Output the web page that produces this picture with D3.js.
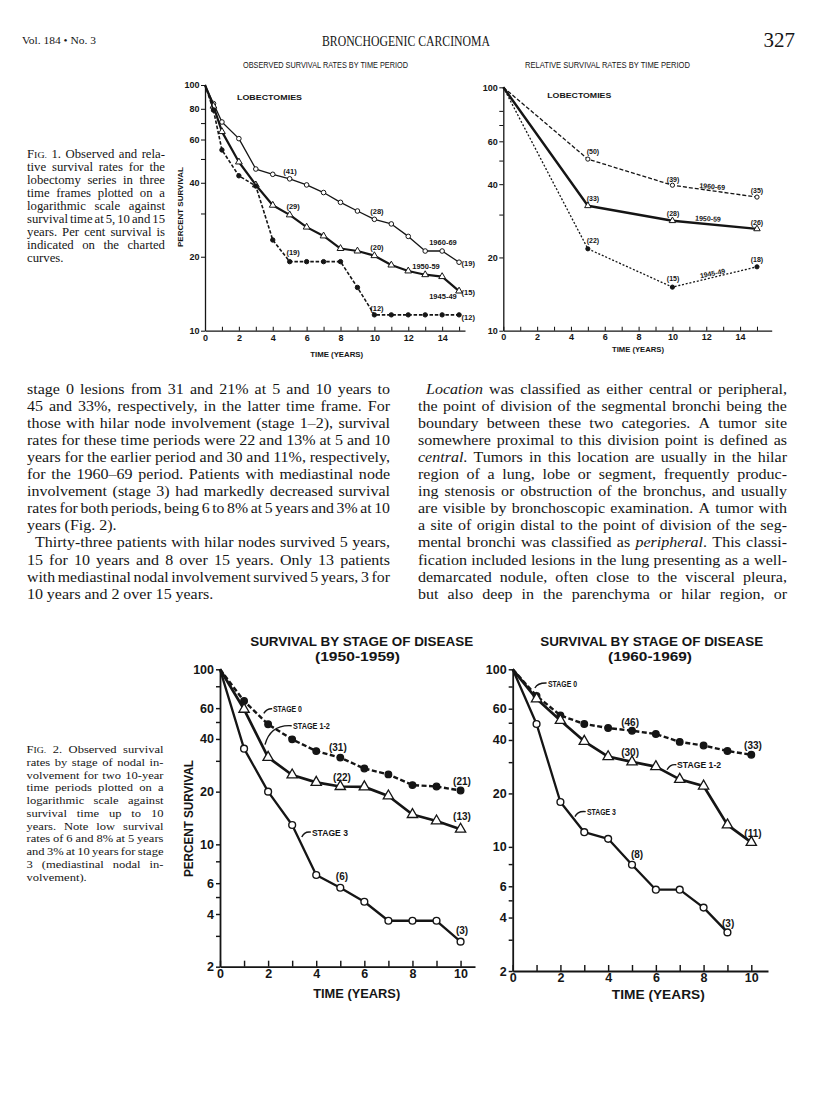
<!DOCTYPE html>
<html><head><meta charset="utf-8">
<script src="https://cdn.jsdelivr.net/npm/d3@7"></script>
<style>
html,body{margin:0;padding:0;background:#fff;}
svg{display:block;}
</style></head><body>
<svg id="page" width="816" height="1109"></svg>
<script>
// ---------------- DATA ----------------
// Fig. 1 left: observed survival (%) by time period, lobectomies
const obsYears = [0, 0.5, 1, 2, 3, 4, 5, 6, 7, 8, 9, 10, 11, 12, 13, 14, 15];
const obs1960 = [100, 84, 70.7, 60.5, 45.5, 43.3, 41.5, 39.2, 36.5, 33.3, 30.7, 28.4, 27.2, 24.2, 21.1, 21.1, 19.0];
const obs1950 = [100, 82, 64.6, 48.6, 39.2, 32.4, 29.6, 26.4, 24.3, 21.6, 21.1, 20.2, 18.5, 17.5, 16.9, 16.6, 14.5];
const obs1945 = [100, 79, 54.4, 42.7, 38.8, 23.4, 19.1, 19.1, 19.1, 19.1, 15.0, 11.6, 11.6, 11.6, 11.6, 11.6, 11.6];
// Fig. 1 right: relative survival (%)
const relYears = [0, 5, 10, 15];
const rel1960 = [100, 50.7, 39.6, 35.4];
const rel1950 = [100, 32.6, 28.3, 26.2];
const rel1945 = [100, 21.7, 15.1, 18.3];
// Fig. 2: survival by stage
const stageYears = [0, 1, 2, 3, 4, 5, 6, 7, 8, 9, 10];
const s50stage0 = [100, 65.9, 48.5, 39.8, 34.1, 31.3, 27.1, 25.1, 21.8, 21.4, 20.3];
const s50stage12 = [100, 59.1, 31.4, 24.9, 22.6, 21.4, 21.3, 18.9, 14.8, 13.6, 12.2];
const s50stage3 = [100, 35.2, 20.0, 12.9, 6.68, 5.65, 4.70, 3.66, 3.66, 3.66, 2.78];
const s60stage0 = [100, 70.8, 55.0, 49.2, 46.7, 45.1, 43.2, 39.0, 37.2, 34.7, 33.0];
const s60stage12 = [100, 68.2, 51.5, 39.3, 32.2, 30.1, 28.3, 24.0, 22.0, 13.3, 10.6];
const s60stage3 = [100, 49.2, 17.9, 12.1, 11.1, 7.93, 5.74, 5.74, 4.55, 3.30];
// tick labels
const lobXLabels = [0, 2, 4, 6, 8, 10, 12, 14];
const obsYLabels = [10, 20, 40, 60, 80, 100];
const relYLabels = [10, 20, 40, 60, 100];
const lobYTicks = [10, 20, 30, 40, 50, 60, 70, 80, 100];
const stageXLabels = [0, 2, 4, 6, 8, 10];
const stageYLabels = [2, 4, 6, 10, 20, 40, 60, 100];
const stageYTicks = [2, 3, 4, 5, 6, 8, 10, 20, 30, 40, 50, 60, 80, 100];
// names
const periods = ["1960-69", "1950-59", "1945-49"];
const stageNames = ["STAGE 0", "STAGE 1-2", "STAGE 3"];

// ---------------- SETUP ----------------
const INK = "#151515";
const SANS = "'Liberation Sans', Arial, Helvetica, sans-serif";
const SERIF = "'Liberation Serif', 'Times New Roman', serif";
const svg = d3.select("#page");
svg.append("rect").attr("width", 816).attr("height", 1109).attr("fill", "#fff");

function txt(g, x, y, s, o = {}) {
  const t = g.append("text").attr("x", x).attr("y", y).text(s)
    .attr("fill", INK).attr("font-family", o.family || SANS)
    .attr("font-size", o.fs || 9).attr("font-weight", o.bold === false ? "normal" : "bold")
    .attr("text-anchor", o.anchor || "start");
  if (o.len) t.attr("textLength", o.len).attr("lengthAdjust", "spacingAndGlyphs");
  if (o.rot) t.attr("transform", `rotate(${o.rot},${x},${y})`);
  return t;
}

// ---------------- JUSTIFIED SERIF TEXT ----------------
function renderWord(t, w, fs) {
  if (w.startsWith("~")) { // small caps style "FIG."
    const s = w.slice(1);
    t.append("tspan").text(s[0]);
    t.append("tspan").attr("font-size", fs * 0.78).text(s.slice(1));
    return;
  }
  const parts = w.split("*");
  parts.forEach((p, i) => {
    if (!p) return;
    const ts = t.append("tspan").text(p);
    if (i % 2 === 1) ts.attr("font-style", "italic");
  });
}
function justify(g, lines, opt) {
  const hs = opt.hs || 1;
  lines.forEach((ln, i) => {
    const y = opt.y + i * opt.lh;
    const ind = ln.indent || 0;
    const x0 = opt.x + ind, W = opt.width - ind;
    const words = ln.text.split(" ");
    const els = words.map(w => {
      const t = g.append("text").attr("y", y).attr("font-family", opt.family)
        .attr("font-size", opt.fs).attr("fill", INK);
      renderWord(t, w, opt.fs);
      return t;
    });
    const nat = els.map(t => t.node().getComputedTextLength());
    let f = hs;
    const sum = d3.sum(nat);
    let gap = opt.fs * 0.25;
    const minGap = opt.fs * 0.17;
    if (!ln.last && words.length > 1) {
      gap = (W - sum * f) / (words.length - 1);
      if (gap < minGap) {
        gap = minGap;
        f = (W - gap * (words.length - 1)) / sum;
      }
    }
    const widths = nat.map((w0, j) => {
      if (Math.abs(f - 1) > 0.001) els[j].attr("textLength", w0 * f).attr("lengthAdjust", "spacingAndGlyphs");
      return w0 * f;
    });
    let x = x0;
    els.forEach((t, j) => { t.attr("x", x); x += widths[j] + gap; });
  });
}

// ---------------- HEADER ----------------
const head = svg.append("g");
txt(head, 22, 44, "Vol. 184 \u2022 No. 3", { family: SERIF, fs: 10, bold: false, len: 74 });
txt(head, 406, 45.5, "BRONCHOGENIC CARCINOMA", { family: SERIF, fs: 15, bold: false, anchor: "middle", len: 168 });
txt(head, 795, 47, "327", { family: SERIF, fs: 21, bold: false, anchor: "end" });
txt(head, 243, 68, "OBSERVED SURVIVAL RATES BY TIME PERIOD", { fs: 8.5, bold: false, len: 165 });
txt(head, 525, 68, "RELATIVE SURVIVAL RATES BY TIME PERIOD", { fs: 8.5, bold: false, len: 165 });

// ---------------- CHART HELPER ----------------
function chart(cfg) {
  const g = svg.append("g");
  const x = d3.scaleLinear().domain(cfg.xDomain).range(cfg.xRange);
  const y = d3.scaleLog().domain(cfg.yDomain).range(cfg.yRange);
  const xa = d3.axisBottom(x).tickValues(d3.range(0, Math.floor(cfg.xDomain[1]) + 1))
    .tickFormat(d => cfg.xLabels.includes(d) ? d : "")
    .tickSize(-cfg.xTick).tickSizeOuter(0).tickPadding(cfg.xPad);
  const ya = d3.axisLeft(y).tickValues(cfg.yTicks)
    .tickFormat(d => cfg.yLabels.includes(d) ? d : "")
    .tickSize(cfg.yTick).tickSizeOuter(0).tickPadding(cfg.yPad);
  const gx = g.append("g").attr("transform", `translate(0,${cfg.yRange[0]})`).call(xa);
  const gy = g.append("g").attr("transform", `translate(${cfg.xRange[0]},0)`).call(ya);
  [gx, gy].forEach(a => {
    a.select(".domain").attr("stroke", INK).attr("stroke-width", cfg.axisW);
    a.selectAll(".tick line").attr("stroke", INK).attr("stroke-width", cfg.axisW * 0.8);
    a.selectAll("text").attr("fill", INK).attr("font-family", SANS)
      .attr("font-weight", "bold").attr("font-size", cfg.tickFs);
  });
  const line = d3.line().x(d => x(d[0])).y(d => y(d[1]));
  cfg.series.forEach(s => {
    const pts = s.years.map((yr, i) => [yr, s.values[i]]);
    g.append("path").datum(pts).attr("d", line).attr("fill", "none")
      .attr("stroke", INK).attr("stroke-width", s.w)
      .attr("stroke-dasharray", s.dash || null).attr("stroke-linejoin", "round");
    const mk = g.append("g");
    pts.filter(p => p[0] > 0).forEach(p => {
      if (s.marker === "tri") {
        mk.append("path").attr("d", d3.symbol().type(d3.symbolTriangle).size(s.size)())
          .attr("transform", `translate(${x(p[0])},${y(p[1])})`)
          .attr("fill", "#fff").attr("stroke", INK).attr("stroke-width", s.mw);
      } else {
        mk.append("circle").attr("cx", x(p[0])).attr("cy", y(p[1])).attr("r", s.r)
          .attr("fill", s.marker === "filled" ? INK : "#fff")
          .attr("stroke", INK).attr("stroke-width", s.mw);
      }
    });
  });
  return { g, x, y };
}

// ---------------- FIG 1 LEFT: OBSERVED ----------------
const c1 = chart({
  xDomain: [0, 15.35], xRange: [205, 465], yDomain: [10, 100], yRange: [330.7, 85],
  xLabels: lobXLabels, yLabels: obsYLabels, yTicks: lobYTicks,
  xTick: 4, xPad: 3.5, yTick: 4, yPad: 1.5, axisW: 1.3, tickFs: 9,
  series: [
    { years: obsYears, values: obs1960, w: 1.3, marker: "open", r: 2.3, mw: 1 },
    { years: obsYears, values: obs1950, w: 2.2, marker: "tri", size: 20, mw: 1 },
    { years: obsYears, values: obs1945, w: 1.6, dash: "3.5,1.8", marker: "filled", r: 2.2, mw: 1 }
  ]
});
{
  const { g, x, y } = c1;
  const f = 7.5;
  txt(g, x(1.89), y(89.3) + 3, "LOBECTOMIES", { fs: 8, len: 65 });
  txt(g, x(5.02), y(44.8) + 3, "(41)", { fs: f, anchor: "middle" });
  txt(g, x(5.2), y(32.2) + 3, "(29)", { fs: f, anchor: "middle" });
  txt(g, x(5.2), y(20.9) + 3, "(19)", { fs: f, anchor: "middle" });
  txt(g, x(10.15), y(30.7) + 3, "(28)", { fs: f, anchor: "middle" });
  txt(g, x(10.15), y(21.9) + 3, "(20)", { fs: f, anchor: "middle" });
  txt(g, x(10.15), y(12.4) + 3, "(12)", { fs: f, anchor: "middle" });
  txt(g, x(14.05), y(22.96) + 3, periods[0], { fs: f, anchor: "middle" });
  txt(g, x(13.05), y(18.3) + 3, periods[1], { fs: f, anchor: "middle" });
  txt(g, x(14.05), y(13.8) + 3, periods[2], { fs: f, anchor: "middle" });
  txt(g, x(15.15), y(18.9) + 3, "(19)", { fs: f });
  txt(g, x(15.15), y(14.4) + 3, "(15)", { fs: f });
  txt(g, x(15.15), y(11.4) + 3, "(12)", { fs: f });
  txt(g, 336.7, 356.5, "TIME (YEARS)", { fs: 8, anchor: "middle", len: 53 });
  txt(g, 183, 207, "PERCENT SURVIVAL", { fs: 8, anchor: "middle", rot: -90, len: 80 });
}

// ---------------- FIG 1 RIGHT: RELATIVE ----------------
const c2 = chart({
  xDomain: [0, 15.87], xRange: [503.3, 771.7], yDomain: [10, 100], yRange: [330.7, 87.3],
  xLabels: lobXLabels, yLabels: relYLabels, yTicks: lobYTicks,
  xTick: 4, xPad: 3, yTick: 4, yPad: 1.5, axisW: 1.3, tickFs: 9,
  series: [
    { years: relYears, values: rel1960, w: 1.3, dash: "4,2", marker: "open", r: 2.1, mw: 1 },
    { years: relYears, values: rel1950, w: 2.4, marker: "tri", size: 18, mw: 1 },
    { years: relYears, values: rel1945, w: 1.3, dash: "2,1.8", marker: "filled", r: 2.1, mw: 1 }
  ]
});
{
  const { g, x, y } = c2;
  const f = 7;
  txt(g, x(2.6), y(93.3) + 3, "LOBECTOMIES", { fs: 8, len: 64 });
  txt(g, x(5.3), y(54.8) + 3, "(50)", { fs: f, anchor: "middle" });
  txt(g, x(10.04), y(42.0) + 3, "(39)", { fs: f, anchor: "middle" });
  txt(g, x(12.34), y(39.3) + 3, periods[0], { fs: f, anchor: "middle", rot: 5 });
  txt(g, x(15.0), y(37.8) + 3, "(35)", { fs: f, anchor: "middle" });
  txt(g, x(5.3), y(35.1) + 3, "(33)", { fs: f, anchor: "middle" });
  txt(g, x(10.04), y(30.4) + 3, "(28)", { fs: f, anchor: "middle" });
  txt(g, x(12.1), y(29.0) + 3, periods[1], { fs: f, anchor: "middle", rot: 3 });
  txt(g, x(15.0), y(28.0) + 3, "(26)", { fs: f, anchor: "middle" });
  txt(g, x(5.3), y(23.6) + 3, "(22)", { fs: f, anchor: "middle" });
  txt(g, x(10.04), y(16.5) + 3, "(15)", { fs: f, anchor: "middle" });
  txt(g, x(12.4), y(17.3) + 3, periods[2], { fs: f, anchor: "middle", rot: -11 });
  txt(g, x(15.0), y(19.7) + 3, "(18)", { fs: f, anchor: "middle" });
  txt(g, 638, 351.5, "TIME (YEARS)", { fs: 8, anchor: "middle", len: 52 });
}

// ---------------- FIG 2 CHARTS ----------------
function stageChart(xRange, xDom, yRange, s0, s12, s3) {
  return chart({
    xDomain: xDom, xRange: xRange, yDomain: [2, 100], yRange: yRange,
    xLabels: stageXLabels, yLabels: stageYLabels, yTicks: stageYTicks,
    xTick: 6, xPad: 2.5, yTick: 4, yPad: 2, axisW: 1.8, tickFs: 12.5,
    series: [
      { years: stageYears.slice(0, s0.length), values: s0, w: 2.4, dash: "5,2.5", marker: "filled", r: 3.3, mw: 1.3 },
      { years: stageYears.slice(0, s12.length), values: s12, w: 2.7, marker: "tri", size: 46, mw: 1.3 },
      { years: stageYears.slice(0, s3.length), values: s3, w: 2.3, marker: "open", r: 3.4, mw: 1.4 }
    ]
  });
}
function leader(g, x, y, a, b, c) {
  const p = d3.path();
  p.moveTo(x(a[0]), y(a[1]));
  p.quadraticCurveTo(x(b[0]), y(b[1]), x(c[0]), y(c[1]));
  g.append("path").attr("d", p.toString()).attr("fill", "none")
    .attr("stroke", INK).attr("stroke-width", 1.4);
}

const c3 = stageChart([220, 475], [0, 10.6], [966.7, 669.3], s50stage0, s50stage12, s50stage3);
{
  const { g, x, y } = c3;
  txt(g, 361.7, 646, "SURVIVAL BY STAGE OF DISEASE", { fs: 13, anchor: "middle", len: 223 });
  txt(g, 357.5, 660.5, "(1950-1959)", { fs: 12.5, anchor: "middle", len: 85 });
  const f = 10;
  txt(g, x(4.9), y(36.2) + 4, "(31)", { fs: f, anchor: "middle" });
  txt(g, x(5.07), y(24.4) + 4, "(22)", { fs: f, anchor: "middle" });
  txt(g, x(5.07), y(6.6) + 4, "(6)", { fs: f, anchor: "middle" });
  txt(g, x(10.06), y(22.9) + 4, "(21)", { fs: f, anchor: "middle" });
  txt(g, x(10.06), y(14.5) + 4, "(13)", { fs: f, anchor: "middle" });
  txt(g, x(10.06), y(3.22) + 4, "(3)", { fs: f, anchor: "middle" });
  txt(g, x(2.2), y(59.5) + 3.5, stageNames[0], { fs: 9, len: 29 });
  txt(g, x(3.03), y(47.6) + 3.5, stageNames[1], { fs: 9, len: 37 });
  txt(g, x(3.82), y(11.75) + 3.5, stageNames[2], { fs: 9, len: 36 });
  leader(g, x, y, [1.82, 56], [1.95, 59.8], [2.17, 59.5]);
  leader(g, x, y, [1.87, 37.1], [2.1, 48.5], [2.98, 47.6]);
  leader(g, x, y, [3.4, 11.0], [3.5, 11.9], [3.78, 11.75]);
  txt(g, 356.7, 998, "TIME (YEARS)", { fs: 13, anchor: "middle", len: 87 });
  txt(g, 192.5, 818.5, "PERCENT SURVIVAL", { fs: 12.5, anchor: "middle", rot: -90, len: 117 });
}

const c4 = stageChart([512.7, 768], [0, 10.7], [971, 669.3], s60stage0, s60stage12, s60stage3);
{
  const { g, x, y } = c4;
  txt(g, 651.7, 646, "SURVIVAL BY STAGE OF DISEASE", { fs: 13, anchor: "middle", len: 223 });
  txt(g, 650, 660.5, "(1960-1969)", { fs: 12.5, anchor: "middle", len: 84 });
  const f = 10;
  txt(g, x(4.92), y(50.6) + 4, "(46)", { fs: f, anchor: "middle" });
  txt(g, x(10.07), y(37.5) + 4, "(33)", { fs: f, anchor: "middle" });
  txt(g, x(4.92), y(34.3) + 4, "(30)", { fs: f, anchor: "middle" });
  txt(g, x(10.07), y(12.0) + 4, "(11)", { fs: f, anchor: "middle" });
  txt(g, x(5.21), y(9.15) + 4, "(8)", { fs: f, anchor: "middle" });
  txt(g, x(9.03), y(3.75) + 4, "(3)", { fs: f, anchor: "middle" });
  txt(g, x(1.48), y(83.7) + 3.5, stageNames[0], { fs: 9, len: 29 });
  txt(g, x(6.89), y(29.0) + 3.5, stageNames[1], { fs: 9, len: 44 });
  txt(g, x(3.11), y(15.8) + 3.5, stageNames[2], { fs: 9, len: 29 });
  leader(g, x, y, [0.93, 78.5], [1.05, 84], [1.42, 83.7]);
  leader(g, x, y, [6.47, 27.2], [6.6, 29.3], [6.86, 29.0]);
  leader(g, x, y, [2.61, 14.8], [2.72, 16], [3.06, 15.8]);
  txt(g, 658.3, 999, "TIME (YEARS)", { fs: 13, anchor: "middle", len: 93 });
}

// ---------------- CAPTIONS ----------------
const fig1Lines = [
  { text: "~FIG. 1. Observed and rela-" },
  { text: "tive survival rates for the" },
  { text: "lobectomy series in three" },
  { text: "time frames plotted on a" },
  { text: "logarithmic scale against" },
  { text: "survival time at 5, 10 and 15" },
  { text: "years. Per cent survival is" },
  { text: "indicated on the charted" },
  { text: "curves.", last: true }
];
justify(svg.append("g"), fig1Lines, { x: 27, y: 158, lh: 13, width: 138, fs: 11.6, hs: 1.1, family: SERIF });

const fig2Lines = [
  { text: "~FIG. 2. Observed survival" },
  { text: "rates by stage of nodal in-" },
  { text: "volvement for two 10-year" },
  { text: "time periods plotted on a" },
  { text: "logarithmic scale against" },
  { text: "survival time up to 10" },
  { text: "years. Note low survival" },
  { text: "rates of 6 and 8% at 5 years" },
  { text: "and 3% at 10 years for stage" },
  { text: "3 (mediastinal nodal in-" },
  { text: "volvement).", last: true }
];
justify(svg.append("g"), fig2Lines, { x: 26.5, y: 753, lh: 12.75, width: 137, fs: 11.4, hs: 1.1, family: SERIF });

// ---------------- BODY TEXT ----------------
const leftCol = [
  { text: "stage 0 lesions from 31 and 21% at 5 and 10 years to" },
  { text: "45 and 33%, respectively, in the latter time frame. For" },
  { text: "those with hilar node involvement (stage 1\u20132), survival" },
  { text: "rates for these time periods were 22 and 13% at 5 and 10" },
  { text: "years for the earlier period and 30 and 11%, respectively," },
  { text: "for the 1960\u201369 period. Patients with mediastinal node" },
  { text: "involvement (stage 3) had markedly decreased survival" },
  { text: "rates for both periods, being 6 to 8% at 5 years and 3% at 10" },
  { text: "years (Fig. 2).", last: true },
  { text: "Thirty-three patients with hilar nodes survived 5 years,", indent: 8 },
  { text: "15 for 10 years and 8 over 15 years. Only 13 patients" },
  { text: "with mediastinal nodal involvement survived 5 years, 3 for" },
  { text: "10 years and 2 over 15 years.", last: true }
];
justify(svg.append("g"), leftCol, { x: 27, y: 393.5, lh: 17.1, width: 363, fs: 15.4, hs: 1.04, family: SERIF });

const rightCol = [
  { text: "*Location* was classified as either central or peripheral,", indent: 8 },
  { text: "the point of division of the segmental bronchi being the" },
  { text: "boundary between these two categories. A tumor site" },
  { text: "somewhere proximal to this division point is defined as" },
  { text: "*central*. Tumors in this location are usually in the hilar" },
  { text: "region of a lung, lobe or segment, frequently produc-" },
  { text: "ing stenosis or obstruction of the bronchus, and usually" },
  { text: "are visible by bronchoscopic examination. A tumor with" },
  { text: "a site of origin distal to the point of division of the seg-" },
  { text: "mental bronchi was classified as *peripheral*. This classi-" },
  { text: "fication included lesions in the lung presenting as a well-" },
  { text: "demarcated nodule, often close to the visceral pleura," },
  { text: "but also deep in the parenchyma or hilar region, or" }
];
justify(svg.append("g"), rightCol, { x: 418, y: 393.5, lh: 17.1, width: 369, fs: 15.4, hs: 1.04, family: SERIF });
</script>
</body></html>
